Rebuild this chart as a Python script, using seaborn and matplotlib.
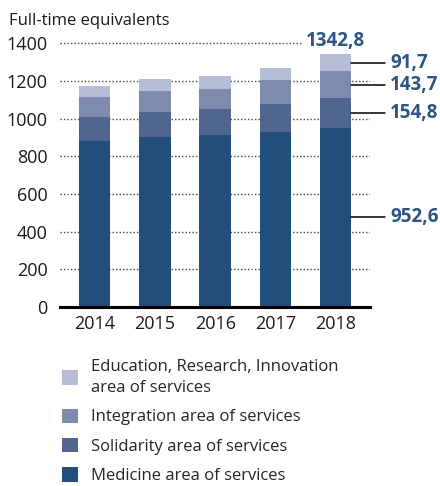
import matplotlib
matplotlib.use("Agg")
import matplotlib.pyplot as plt
import numpy as np
import pandas as pd
import seaborn as sns
from matplotlib.patches import Patch

years = ["2014", "2015", "2016", "2017", "2018"]
medicine = [881, 902, 913, 929, 952.6]
solidarity = [127, 133, 138, 149, 154.8]
integration = [107, 111, 106, 127, 143.7]
education = [58, 64, 69, 64, 91.7]

series_names = [
    "Medicine area of services",
    "Solidarity area of services",
    "Integration area of services",
    "Education, Research, Innovation\narea of services",
]
colors = ["#234e7b", "#50668f", "#7f8bae", "#b8bdd6"]
label_color = "#2c5585"
yticks = [0, 200, 400, 600, 800, 1000, 1200, 1400]

sns.set_style("white")
plt.rcParams["font.family"] = ["Open Sans", "DejaVu Sans"]

fig = plt.figure(figsize=(4.4, 4.86), dpi=100)
ax = fig.add_axes([60 / 440, 1 - 307 / 486, 310 / 440, (307 - 43.3) / 486])

layers = [medicine, solidarity, integration, education]
bottom = np.zeros(len(years))
for vals, col in zip(layers, colors):
    df = pd.DataFrame({"year": years, "value": vals})
    sns.barplot(data=df, x="year", y="value", bottom=bottom, color=col,
                width=0.52, ax=ax, saturation=1, zorder=3,
                edgecolor="none", linewidth=0)
    bottom = bottom + np.array(vals)

# dotted gridlines behind the bars
for t in yticks[1:-1]:
    ax.axhline(t, color="#444444", lw=1.0, ls=(0, (1, 1.5)), zorder=1)
ax.hlines(1400, -0.575, 3.45, color="#444444", lw=1.0, ls=(0, (1, 1.5)),
          zorder=1, clip_on=False)

ax.set_xlim(-0.575, 4.57)
ax.set_ylim(0, 1400)
ax.set_yticks(yticks)
ax.set_xlabel("")
ax.set_ylabel("")
sns.despine(ax=ax, left=True, top=True, right=True, bottom=False)
ax.spines["bottom"].set_linewidth(2.2)
ax.spines["bottom"].set_color("black")
ax.spines["bottom"].set_zorder(5)
ax.tick_params(axis="both", length=0, labelsize=13, colors="#1a1a1a")
ax.tick_params(axis="y", pad=9)
ax.tick_params(axis="x", pad=6)

fig.text(9 / 440, 1 - 21 / 486, "Full-time equivalents", fontsize=12,
         color="#1a1a1a", va="center", ha="left")

# 2018 annotations
last = len(years) - 1
total = sum(l[last] for l in layers)
ax.text(last, total + 72, f"{total:.1f}".replace(".", ","), ha="center",
        va="center", fontsize=13.5, fontweight="bold", color=label_color,
        clip_on=False)
base = 0.0
for vals in layers:
    v = vals[last]
    mid = base + v / 2
    ax.plot([last + 0.26, last + 0.82], [mid, mid], color="black", lw=1.1,
            clip_on=False, zorder=4)
    ax.text(last + 0.9, mid, f"{v:.1f}".replace(".", ","), ha="left",
            va="center", fontsize=13.5, fontweight="bold", color=label_color,
            clip_on=False)
    base += v

handles = [Patch(facecolor=c, edgecolor="none") for c in colors[::-1]]
leg = fig.legend(handles, series_names[::-1], loc="upper left",
                 bbox_to_anchor=(55 / 440, 1 - 352 / 486), frameon=False,
                 fontsize=12, handlelength=0.95, handleheight=0.95,
                 handletextpad=0.8, labelspacing=0.75, borderaxespad=0)
for t in leg.get_texts():
    t.set_linespacing(1.45)

fig.savefig("out.png", dpi=100)
